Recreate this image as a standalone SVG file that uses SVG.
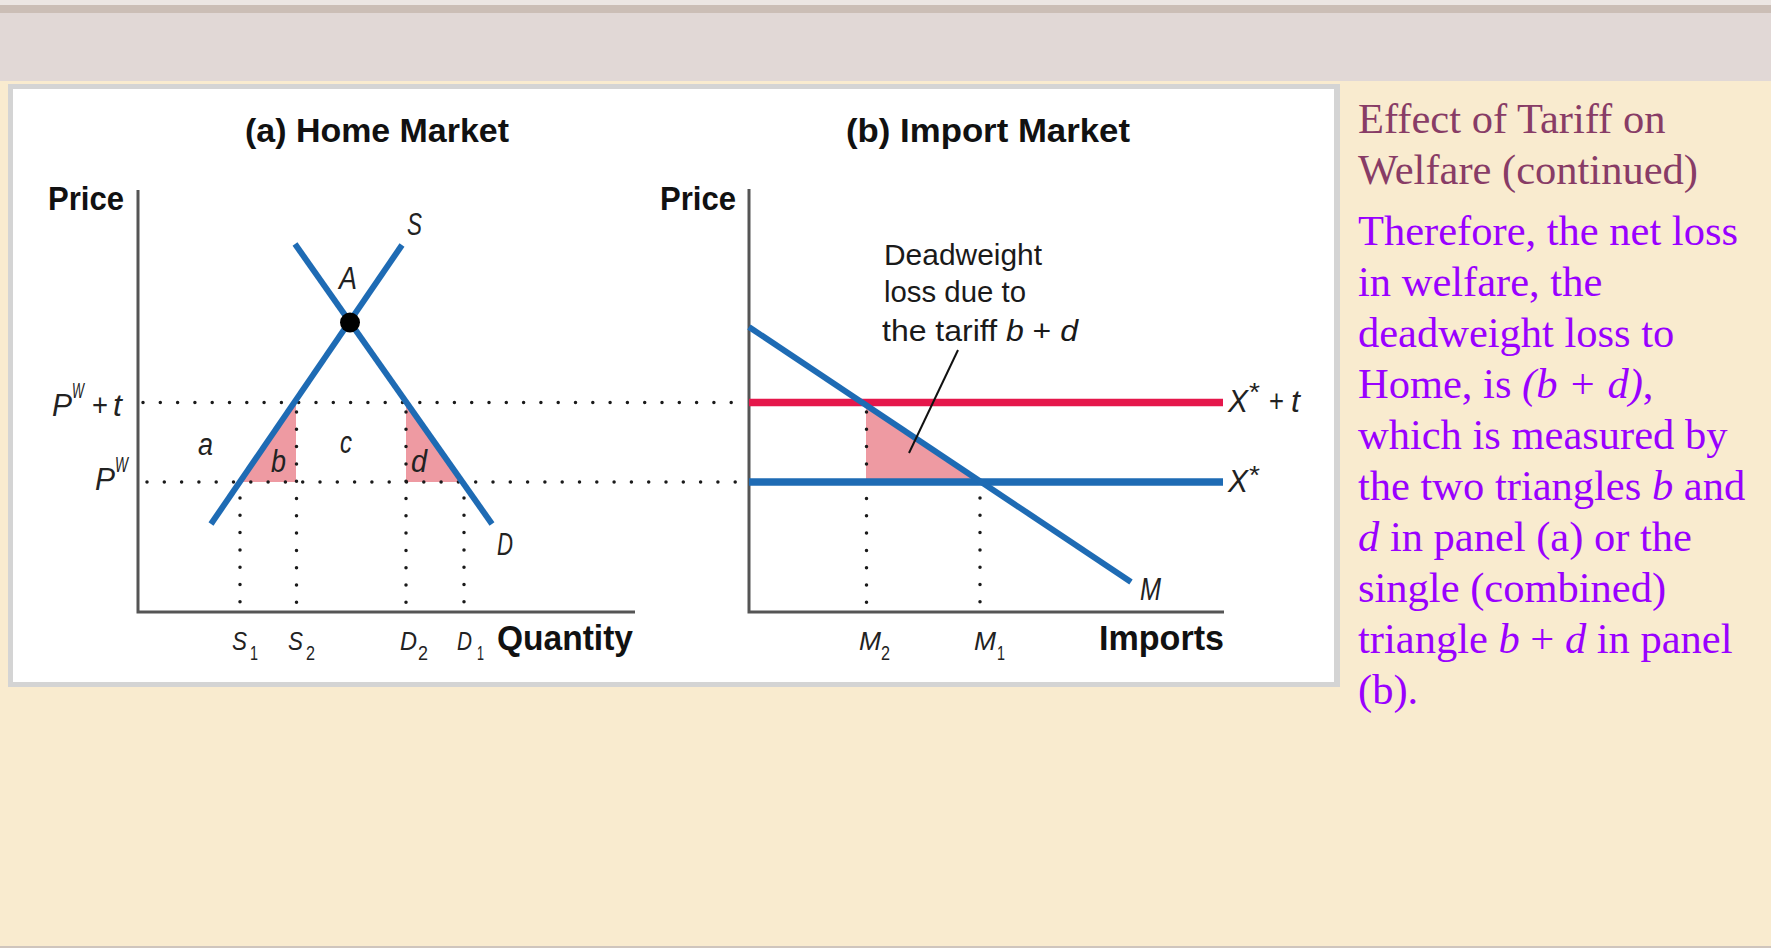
<svg xmlns="http://www.w3.org/2000/svg" width="1771" height="948" viewBox="0 0 1771 948">
<style>
.ax{fill:none;stroke:#555;stroke-width:3}
.dot{fill:none;stroke:#1a1a1a;stroke-width:3.5;stroke-linecap:round;stroke-dasharray:0 17.3}
.blue{fill:none;stroke:#1e6bb4;stroke-width:6;stroke-linecap:butt}
.thick{fill:none;stroke-width:7.5}
.pink{fill:#ee9aa2}
.bt{font-family:"Liberation Sans",Arial,sans-serif;font-weight:bold;font-size:34px;fill:#111}
.it{font-family:"Liberation Sans",Arial,sans-serif;font-style:italic;font-size:31px;fill:#222}
.sm{font-family:"Liberation Sans",Arial,sans-serif;font-style:italic;font-size:25px;fill:#222}
.sub{font-family:"Liberation Sans",Arial,sans-serif;font-size:21px;fill:#222}
.up{font-family:"Liberation Sans",Arial,sans-serif;font-size:31px;fill:#222}
.note{font-family:"Liberation Sans",Arial,sans-serif;font-size:30px;fill:#1a1a1a}
.ttl{font-family:"Liberation Serif","Times New Roman",serif;font-size:42.5px;fill:#883c66}
.body{font-family:"Liberation Serif","Times New Roman",serif;font-size:42.5px;fill:#9900ff}
.i{font-style:italic}
</style>
<!-- background -->
<rect x="0" y="0" width="1771" height="948" fill="#f9ebcf"/>
<rect x="0" y="0" width="1771" height="5" fill="#ece6e3"/>
<rect x="0" y="5" width="1771" height="8" fill="#cbbeb6"/>
<rect x="0" y="13" width="1771" height="68" fill="#e1d8d6"/>
<rect x="0" y="946" width="1771" height="2" fill="#cfc5bd"/>
<g id="panel">
<rect x="8" y="84" width="1332" height="603" fill="#d4d4d4"/>
<rect x="13" y="89" width="1321" height="593" fill="#ffffff"/>
</g>
<g id="home-market">
<text class="bt" x="245" y="142" textLength="264" lengthAdjust="spacingAndGlyphs">(a) Home Market</text>
<text class="bt" x="48" y="210" textLength="76" lengthAdjust="spacingAndGlyphs">Price</text>
<polyline class="ax" points="138,190 138,612 635,612"/>
<polygon class="pink" points="240,482 296,403 296,482"/>
<polygon class="pink" points="406,403 406,482 463,482"/>
<g id="dotted-a">
<line class="dot" x1="143" y1="402.5" x2="742" y2="402.5"/>
<line class="dot" x1="147" y1="482" x2="742" y2="482"/>
<line class="dot" x1="240" y1="498" x2="240" y2="605"/>
<line class="dot" x1="296.5" y1="412" x2="296.5" y2="605"/>
<line class="dot" x1="406" y1="412" x2="406" y2="605"/>
<line class="dot" x1="464" y1="498" x2="464" y2="605"/>
</g>
<line id="curve-S" class="blue" x1="211" y1="524" x2="402" y2="245"/>
<line id="curve-D" class="blue" x1="295" y1="244" x2="492" y2="524"/>
<circle id="point-A" cx="350" cy="322.5" r="10" fill="#000"/>
<text class="it" x="407" y="235" textLength="15" lengthAdjust="spacingAndGlyphs">S</text>
<text class="it" x="339" y="289" textLength="18" lengthAdjust="spacingAndGlyphs">A</text>
<text class="it" x="497" y="555" textLength="16" lengthAdjust="spacingAndGlyphs">D</text>
<text class="it" x="198" y="455" textLength="15" lengthAdjust="spacingAndGlyphs">a</text>
<text class="it" x="271" y="472" textLength="15" lengthAdjust="spacingAndGlyphs">b</text>
<text class="it" x="340" y="453" textLength="12" lengthAdjust="spacingAndGlyphs">c</text>
<text class="it" x="411" y="472" textLength="16" lengthAdjust="spacingAndGlyphs">d</text>
<text class="it" x="52" y="416" textLength="20" lengthAdjust="spacingAndGlyphs">P</text>
<text class="sub i" x="72" y="398" textLength="12" lengthAdjust="spacingAndGlyphs" style="font-size:22px">W</text>
<text class="up" x="92" y="416" textLength="16" lengthAdjust="spacingAndGlyphs">+</text>
<text class="it" x="113" y="416" style="font-size:32px">t</text>
<text class="it" x="95" y="490" textLength="20" lengthAdjust="spacingAndGlyphs">P</text>
<text class="sub i" x="115" y="472" textLength="13" lengthAdjust="spacingAndGlyphs" style="font-size:22px">W</text>
<text class="sm" x="232" y="650" textLength="15" lengthAdjust="spacingAndGlyphs">S</text>
<text class="sub" x="250" y="660" textLength="8" lengthAdjust="spacingAndGlyphs">1</text>
<text class="sm" x="288" y="650" textLength="15" lengthAdjust="spacingAndGlyphs">S</text>
<text class="sub" x="306" y="660" textLength="9" lengthAdjust="spacingAndGlyphs">2</text>
<text class="sm" x="400" y="650" textLength="17" lengthAdjust="spacingAndGlyphs">D</text>
<text class="sub" x="418" y="660" textLength="10" lengthAdjust="spacingAndGlyphs">2</text>
<text class="sm" x="457" y="650" textLength="15" lengthAdjust="spacingAndGlyphs">D</text>
<text class="sub" x="477" y="660" textLength="7" lengthAdjust="spacingAndGlyphs">1</text>
<text class="bt" x="497" y="650" textLength="136" lengthAdjust="spacingAndGlyphs" style="font-size:35px">Quantity</text>
</g>
<g id="import-market">
<text class="bt" x="846" y="142" textLength="284" lengthAdjust="spacingAndGlyphs">(b) Import Market</text>
<text class="bt" x="660" y="210" textLength="76" lengthAdjust="spacingAndGlyphs">Price</text>
<polyline class="ax" points="749,189 749,612 1224,612"/>
<polygon class="pink" points="866,403 866,482 981,482"/>
<g id="dotted-b">
<line class="dot" x1="866.5" y1="412" x2="866.5" y2="605"/>
<line class="dot" x1="980" y1="498" x2="980" y2="605"/>
</g>
<line id="line-Xt" class="thick" stroke="#e5174b" x1="749" y1="402.5" x2="1223" y2="402.5"/>
<line id="line-X" class="thick" stroke="#1e6bb4" x1="749" y1="482" x2="1223" y2="482"/>
<line id="curve-M" class="blue" x1="749" y1="327" x2="1131" y2="582"/>
<text class="it" x="1228" y="412" textLength="20" lengthAdjust="spacingAndGlyphs">X</text>
<text class="up" x="1249" y="401" textLength="11" lengthAdjust="spacingAndGlyphs" style="font-size:26px">*</text>
<text class="up" x="1269" y="412" textLength="15" lengthAdjust="spacingAndGlyphs">+</text>
<text class="it" x="1291" y="412" style="font-size:32px">t</text>
<text class="it" x="1228" y="492" textLength="20" lengthAdjust="spacingAndGlyphs">X</text>
<text class="up" x="1249" y="484" textLength="11" lengthAdjust="spacingAndGlyphs" style="font-size:26px">*</text>
<text class="it" x="1140" y="600" textLength="21" lengthAdjust="spacingAndGlyphs">M</text>
<text class="sm" x="859" y="650" textLength="22" lengthAdjust="spacingAndGlyphs">M</text>
<text class="sub" x="881" y="660" textLength="9" lengthAdjust="spacingAndGlyphs">2</text>
<text class="sm" x="974" y="650" textLength="22" lengthAdjust="spacingAndGlyphs">M</text>
<text class="sub" x="997" y="660" textLength="8" lengthAdjust="spacingAndGlyphs">1</text>
<text class="bt" x="1099" y="650" textLength="125" lengthAdjust="spacingAndGlyphs" style="font-size:35px">Imports</text>
<g id="deadweight-note">
<text class="note" x="884" y="265" textLength="158" lengthAdjust="spacingAndGlyphs">Deadweight</text>
<text class="note" x="884" y="302" textLength="142" lengthAdjust="spacingAndGlyphs">loss due to</text>
<text class="note" x="882" y="341" textLength="196" lengthAdjust="spacingAndGlyphs">the tariff <tspan class="i">b</tspan> + <tspan class="i">d</tspan></text>
</g>
</g>
<g id="connectors">
<line x1="958" y1="350" x2="909" y2="453" stroke="#111" stroke-width="2"/>
</g>
<g id="text-panel">
<text class="ttl" x="1358" y="133">Effect of Tariff on</text>
<text class="ttl" x="1358" y="184">Welfare (continued)</text>
<text class="body" x="1358" y="245">Therefore, the net loss</text>
<text class="body" x="1358" y="296">in welfare, the</text>
<text class="body" x="1358" y="347">deadweight loss to</text>
<text class="body" x="1358" y="398">Home, is <tspan class="i">(b + d)</tspan>,</text>
<text class="body" x="1358" y="449">which is measured by</text>
<text class="body" x="1358" y="500">the two triangles <tspan class="i">b</tspan> and</text>
<text class="body" x="1358" y="551"><tspan class="i">d</tspan> in panel (a) or the</text>
<text class="body" x="1358" y="602">single (combined)</text>
<text class="body" x="1358" y="653">triangle <tspan class="i">b</tspan> + <tspan class="i">d</tspan> in panel</text>
<text class="body" x="1358" y="704">(b).</text>
</g>
</svg>
